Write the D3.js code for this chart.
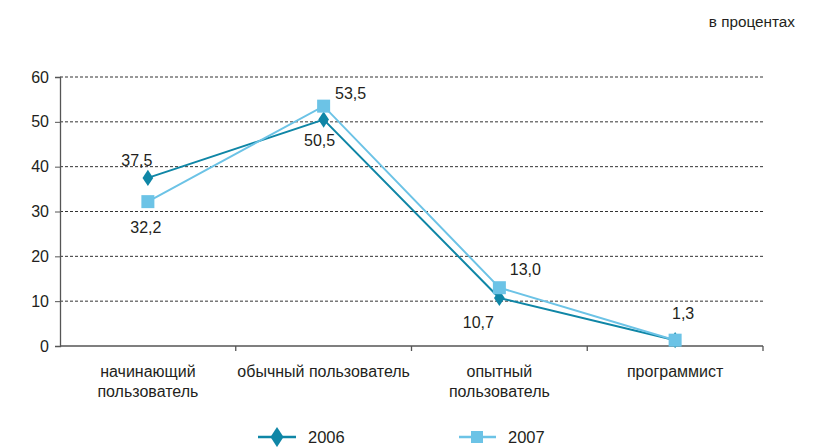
<!DOCTYPE html>
<html>
<head>
<meta charset="utf-8">
<style>
  body { margin: 0; background: #fff; }
  text { font-family: "Liberation Sans", Arial, sans-serif; fill: #231f20; }
</style>
</head>
<body>
<svg width="817" height="447" font-size="16"></svg>
<script src="https://d3js.org/d3.v7.min.js"></script>
<script>

var categories = [["начинающий", "пользователь"], ["обычный пользователь"], ["опытный", "пользователь"], ["программист"]];
var values2006 = [37.5, 50.5, 10.7, 1.3];
var values2007 = [32.2, 53.5, 13.0, 1.3];
var labels2006 = ["37,5", "50,5", "10,7", ""];
var labels2007 = ["32,2", "53,5", "13,0", "1,3"];
var yTicks = [0, 10, 20, 30, 40, 50, 60];

var svg = d3.select("svg"),
    margin = {top: 77, left: 60, right: 54, bottom: 101},
    width = 817 - margin.left - margin.right,
    height = 447 - margin.top - margin.bottom;

var g = svg.append("g").attr("transform", "translate(" + margin.left + "," + margin.top + ")");

var x = d3.scaleBand().domain(d3.range(categories.length)).range([0, width]);
var y = d3.scaleLinear().domain([0, 60]).range([height, 0]);

// dashed gridlines
g.selectAll(".grid")
    .data(yTicks.slice(1))
    .enter().append("line")
    .attr("x1", 0).attr("x2", width)
    .attr("y1", function(d) { return y(d); })
    .attr("y2", function(d) { return y(d); })
    .attr("stroke", "#333")
    .attr("stroke-width", 1)
    .attr("stroke-dasharray", "3,2");

// y axis
var yAxis = g.append("g")
    .call(d3.axisLeft(y).tickValues(yTicks).tickSize(5).tickPadding(6));
yAxis.select(".domain").attr("stroke", "#555").attr("stroke-width", 1.3);
yAxis.selectAll(".tick line").attr("stroke", "#555");
yAxis.selectAll("text").attr("font-size", 16).attr("font-family", "Liberation Sans, Arial, sans-serif").attr("fill", "#231f20");

// x axis line with separator ticks
g.append("line")
    .attr("x1", 0).attr("x2", width)
    .attr("y1", height).attr("y2", height)
    .attr("stroke", "#555").attr("stroke-width", 1.3);
g.selectAll(".xtick")
    .data(d3.range(1, categories.length + 1))
    .enter().append("line")
    .attr("x1", function(d) { return d * x.step(); })
    .attr("x2", function(d) { return d * x.step(); })
    .attr("y1", height).attr("y2", height + 5)
    .attr("stroke", "#555").attr("stroke-width", 1.3);

// category labels
g.selectAll(".cat")
    .data(categories)
    .enter().append("text")
    .attr("text-anchor", "middle")
    .attr("font-size", 16)
    .each(function(d, i) {
        d3.select(this).selectAll("tspan")
            .data(d)
            .enter().append("tspan")
            .attr("x", x(i) + x.bandwidth() / 2)
            .attr("y", function(t, j) { return height + 31 + j * 20; })
            .text(function(t) { return t; });
    });

var cx = function(d, i) { return x(i) + x.bandwidth() / 2; };

var line = d3.line()
    .x(function(d, i) { return x(i) + x.bandwidth() / 2; })
    .y(function(d) { return y(d); });

var c2006 = "#0f86a6", c2007 = "#6cc3e6";

g.append("path").datum(values2006)
    .attr("d", line).attr("fill", "none")
    .attr("stroke", c2006).attr("stroke-width", 2);
g.append("path").datum(values2007)
    .attr("d", line).attr("fill", "none")
    .attr("stroke", c2007).attr("stroke-width", 2);

var diamond = d3.symbol().type(d3.symbolDiamond).size(75);

g.selectAll(".m2006")
    .data(values2006)
    .enter().append("path")
    .attr("d", diamond)
    .attr("transform", function(d, i) { return "translate(" + cx(d, i) + "," + y(d) + ") scale(1.15,1)"; })
    .attr("fill", c2006);

g.selectAll(".m2007")
    .data(values2007)
    .enter().append("rect")
    .attr("x", function(d, i) { return cx(d, i) - 6.5; })
    .attr("y", function(d) { return y(d) - 6.5; })
    .attr("width", 13).attr("height", 13)
    .attr("fill", c2007);

// value labels: offsets relative to the point
var off2006 = [[-11, -12], [-4, 26], [-21, 30], [0, 0]];
var off2007 = [[-2, 31], [27, -7], [26, -13], [8, -21]];

g.selectAll(".l2006")
    .data(values2006)
    .enter().append("text")
    .attr("text-anchor", "middle")
    .attr("x", function(d, i) { return cx(d, i) + off2006[i][0]; })
    .attr("y", function(d, i) { return y(d) + off2006[i][1]; })
    .text(function(d, i) { return labels2006[i]; });

g.selectAll(".l2007")
    .data(values2007)
    .enter().append("text")
    .attr("text-anchor", "middle")
    .attr("x", function(d, i) { return cx(d, i) + off2007[i][0]; })
    .attr("y", function(d, i) { return y(d) + off2007[i][1]; })
    .text(function(d, i) { return labels2007[i]; });

// unit note
svg.append("text")
    .attr("x", 795).attr("y", 27)
    .attr("text-anchor", "end")
    .attr("font-size", 15.3)
    .text("в процентах");

// legend
var legend = svg.append("g").attr("transform", "translate(0,437)");
legend.append("line").attr("x1", 258).attr("x2", 296).attr("y1", 0).attr("y2", 0)
    .attr("stroke", c2006).attr("stroke-width", 2.5);
legend.append("path").attr("d", diamond)
    .attr("transform", "translate(277,0) scale(1.4,1.25)").attr("fill", c2006);
legend.append("text").attr("x", 308).attr("y", 6).attr("font-size", 16.5).text("2006");

legend.append("line").attr("x1", 459).attr("x2", 496).attr("y1", 0).attr("y2", 0)
    .attr("stroke", c2007).attr("stroke-width", 2.5);
legend.append("rect").attr("x", 471).attr("y", -6).attr("width", 12).attr("height", 12).attr("fill", c2007);
legend.append("text").attr("x", 508).attr("y", 6).attr("font-size", 16.5).text("2007");

</script>
</body>
</html>
